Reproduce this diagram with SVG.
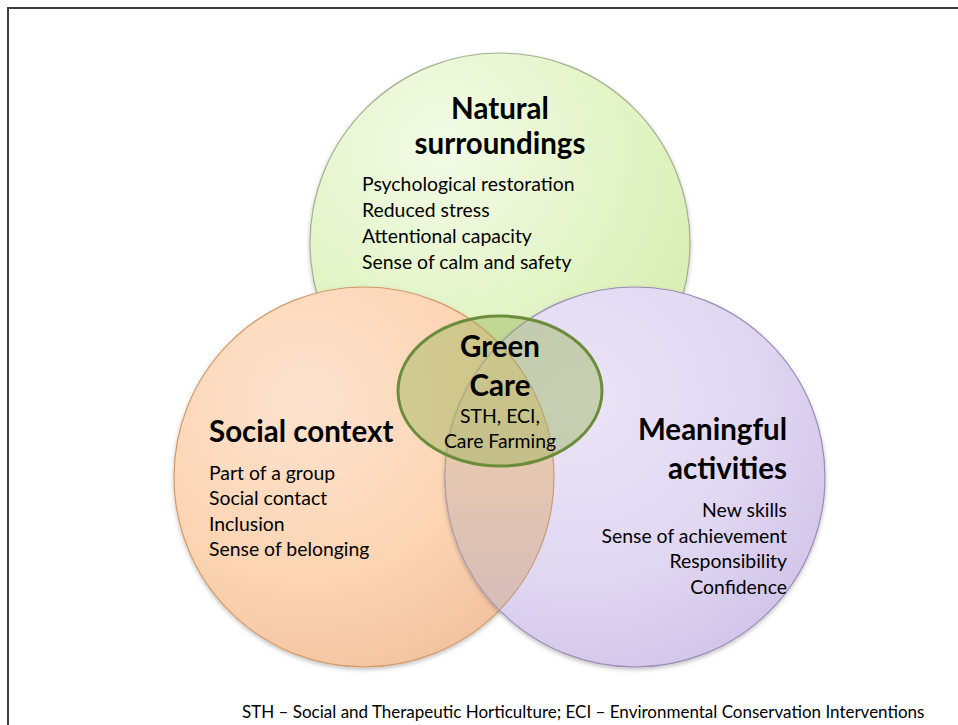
<svg xmlns="http://www.w3.org/2000/svg" width="958" height="725" viewBox="0 0 958 725">
<style>
.h{font-family:Lato,"Open Sans","Liberation Sans",sans-serif;font-weight:bold;font-size:29.5px;fill:#000}
.t{font-family:Lato,"Open Sans","Liberation Sans",sans-serif;font-size:19.4px;fill:#000}
.f{font-family:Lato,"Open Sans","Liberation Sans",sans-serif;font-size:17px;fill:#000}
</style>
<defs>
<radialGradient id="gG" cx="35%" cy="25%" r="80%">
<stop offset="0" stop-color="#f3fbe6"/><stop offset="0.6" stop-color="#e2f4c5"/><stop offset="1" stop-color="#d5edb0"/>
</radialGradient>
<radialGradient id="gO" cx="35%" cy="30%" r="80%">
<stop offset="0" stop-color="#fde3cf"/><stop offset="0.6" stop-color="#fcd4b2"/><stop offset="1" stop-color="#f0c09e"/>
</radialGradient>
<radialGradient id="gP" cx="35%" cy="30%" r="80%">
<stop offset="0" stop-color="#ebe5f7"/><stop offset="0.6" stop-color="#e0d7f2"/><stop offset="1" stop-color="#d0c2e8"/>
</radialGradient>
<linearGradient id="gL" x1="0" y1="0" x2="0" y2="1">
<stop offset="0" stop-color="#f6d2b4"/><stop offset="0.45" stop-color="#e6c7b0"/><stop offset="1" stop-color="#d6bdb9"/>
</linearGradient>
<filter id="sh" x="-10%" y="-10%" width="120%" height="125%">
<feDropShadow dx="0" dy="2" stdDeviation="2" flood-color="#000" flood-opacity="0.25"/>
</filter>
</defs>
<rect x="8" y="8" width="960" height="730" fill="#fff" stroke="#3c3c3c" stroke-width="2"/>
<g id="natural">
<circle cx="500" cy="243" r="190" fill="url(#gG)" stroke="#a4b08c" stroke-width="1.2" filter="url(#sh)"/>
</g>
<g id="social">
<circle cx="364" cy="477" r="190" fill="url(#gO)" stroke="#d49a68" stroke-width="1.2" filter="url(#sh)"/>
</g>
<g id="meaningful">
<circle cx="635" cy="477" r="190" fill="url(#gP)" stroke="#9a8cb6" stroke-width="1.2" filter="url(#sh)"/>
</g>
<g id="overlap">
<path d="M499.5 343.8 A190 190 0 0 1 499.5 610.2 A190 190 0 0 1 499.5 343.8 Z" fill="url(#gL)"/>
<path d="M499.5 343.8 A190 190 0 0 1 499.5 610.2" fill="none" stroke="#c99b78" stroke-width="1.2"/>
<path d="M499.5 610.2 A190 190 0 0 1 499.5 343.8" fill="none" stroke="#b5a0a8" stroke-width="1"/>
</g>
<g id="greencare">
<ellipse cx="500" cy="391" rx="102" ry="75" fill="#9bb55a" fill-opacity="0.45" stroke="#6b8c3a" stroke-width="3"/>
</g>
<g id="labels">
<text class="h" x="500" y="119" text-anchor="middle">Natural</text>
<text class="h" x="500" y="154" text-anchor="middle">surroundings</text>
<text class="t" x="362" y="191">Psychological restoration</text>
<text class="t" x="362" y="217">Reduced stress</text>
<text class="t" x="362" y="243">Attentional capacity</text>
<text class="t" x="362" y="269">Sense of calm and safety</text>
<text class="h" x="500" y="357" text-anchor="middle">Green</text>
<text class="h" x="500" y="396" text-anchor="middle">Care</text>
<text class="t" x="500" y="423" text-anchor="middle">STH, ECI,</text>
<text class="t" x="500" y="448" text-anchor="middle">Care Farming</text>
<text class="h" x="209" y="442">Social context</text>
<text class="t" x="209" y="480">Part of a group</text>
<text class="t" x="209" y="505">Social contact</text>
<text class="t" x="209" y="531">Inclusion</text>
<text class="t" x="209" y="556">Sense of belonging</text>
<text class="h" x="787" y="440" text-anchor="end">Meaningful</text>
<text class="h" x="787" y="479" text-anchor="end">activities</text>
<text class="t" x="787" y="517" text-anchor="end">New skills</text>
<text class="t" x="787" y="543" text-anchor="end">Sense of achievement</text>
<text class="t" x="787" y="568" text-anchor="end">Responsibility</text>
<text class="t" x="787" y="594" text-anchor="end">Confidence</text>
<text class="f" x="242" y="718">STH – Social and Therapeutic Horticulture; ECI – Environmental Conservation Interventions</text>
</g>
</svg>
